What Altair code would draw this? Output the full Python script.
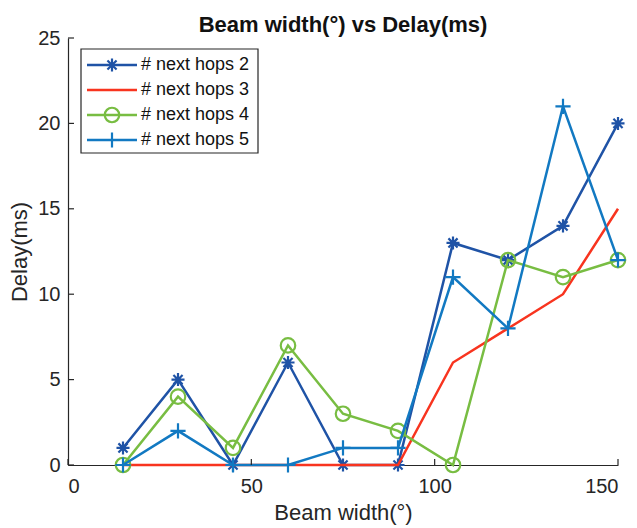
import altair as alt
import pandas as pd

beam_width = [15, 30, 45, 60, 75, 90, 105, 120, 135, 150]
delay_hops2 = [1, 5, 0, 6, 0, 0, 13, 12, 14, 20]
delay_hops3 = [0, 0, 0, 0, 0, 0, 6, 8, 10, 15]
delay_hops4 = [0, 4, 1, 7, 3, 2, 0, 12, 11, 12]
delay_hops5 = [0, 2, 0, 0, 1, 1, 11, 8, 21, 12]
series_labels = ["# next hops 2", "# next hops 3", "# next hops 4", "# next hops 5"]
x_ticks = [0, 50, 100, 150]
y_ticks = [0, 5, 10, 15, 20, 25]
chart_title = "Beam width(°) vs Delay(ms)"

W, H = 550, 427
FONT = "Liberation Sans"
AX = "#262626"
ASTERISK = "M0,-1L0,1M-1,0L1,0M-0.7,-0.7L0.7,0.7M-0.7,0.7L0.7,-0.7"
PLUS = "M0,-1L0,1M-1,0L1,0"
styles = [
    ("#1f53a6", ASTERISK, 170),
    ("#f8341f", None, 0),
    ("#78bd42", "circle", 210),
    ("#1279c2", PLUS, 230),
]
all_delays = [delay_hops2, delay_hops3, delay_hops4, delay_hops5]

xs = alt.Scale(domain=[0, 150], nice=False, zero=False)
ys = alt.Scale(domain=[0, 25], nice=False, zero=False)
x_axis = alt.Axis(values=x_ticks, title="Beam width(°)", tickSize=0, grid=False,
                  labelPadding=11, titlePadding=6)
y_axis = alt.Axis(values=y_ticks, title="Delay(ms)", tickSize=0, grid=False,
                  labelPadding=8, titlePadding=6)


def X(field):
    return alt.X(field, scale=xs, axis=x_axis, title="Beam width(°)")


def Y(field):
    return alt.Y(field, scale=ys, axis=y_axis, title="Delay(ms)")


layers = []
for label, vals, (col, shape, size) in zip(series_labels, all_delays, styles):
    df = pd.DataFrame({"beam": beam_width, "delay": vals, "series": label})
    layers.append(alt.Chart(df).mark_line(color=col, strokeWidth=2.5).encode(
        x=X("beam:Q"), y=Y("delay:Q")))
    if shape is not None:
        layers.append(alt.Chart(df).mark_point(shape=shape, size=size, filled=False, color=col,
                                               strokeWidth=2.2, opacity=1).encode(
            x=X("beam:Q"), y=Y("delay:Q")))

# inward tick marks
xt = alt.Chart(pd.DataFrame({"beam": x_ticks})).mark_rule(color=AX, strokeWidth=1.2).encode(
    x=X("beam:Q"), y=alt.value(H), y2=alt.value(H - 6))
yt = alt.Chart(pd.DataFrame({"delay": y_ticks})).mark_rule(color=AX, strokeWidth=1.2).encode(
    y=Y("delay:Q"), x=alt.value(0), x2=alt.value(6))
layers += [xt, yt]

# legend
one = pd.DataFrame({"k": [0]})
box = alt.Chart(one).mark_rect(fill="white", stroke=AX, strokeWidth=1.2).encode(
    x=alt.value(13), x2=alt.value(190), y=alt.value(11), y2=alt.value(115))
layers.append(box)
row_y = [27, 52, 77, 102]
for label, (col, shape, size), ry in zip(series_labels, styles, row_y):
    ldf = pd.DataFrame({"label": [label]})
    layers.append(alt.Chart(ldf).mark_rule(color=col, strokeWidth=2.5).encode(
        x=alt.value(19), x2=alt.value(69), y=alt.value(ry)))
    if shape is not None:
        layers.append(alt.Chart(ldf).mark_point(shape=shape, size=size, filled=False, color=col,
                                                strokeWidth=2.2, opacity=1).encode(
            x=alt.value(44), y=alt.value(ry)))
    layers.append(alt.Chart(ldf).mark_text(align="left", baseline="middle", font=FONT,
                                           fontSize=18, color="#111111").encode(
        x=alt.value(73), y=alt.value(ry), text="label:N"))

# chart title as a text layer
tdf = pd.DataFrame({"t": [chart_title]})
layers.append(alt.Chart(tdf).mark_text(align="center", baseline="alphabetic", font=FONT,
                                       fontSize=22, fontWeight="bold", color="#111111").encode(
    x=alt.value(W / 2), y=alt.value(-6), text="t:N"))

chart = alt.layer(*layers).properties(
    width=W, height=H,
    autosize=alt.AutoSizeParams(type="none"),
    padding={"left": 60, "top": 30, "right": 10, "bottom": 61},
).configure_view(stroke=None).configure_axis(
    domainColor=AX, domainWidth=1.2, labelFont=FONT, labelFontSize=20, labelColor=AX,
    titleFont=FONT, titleFontSize=22, titleFontWeight="normal", titleColor=AX,
)

chart.save("out.html", embed_options={"renderer": "svg", "actions": False})
